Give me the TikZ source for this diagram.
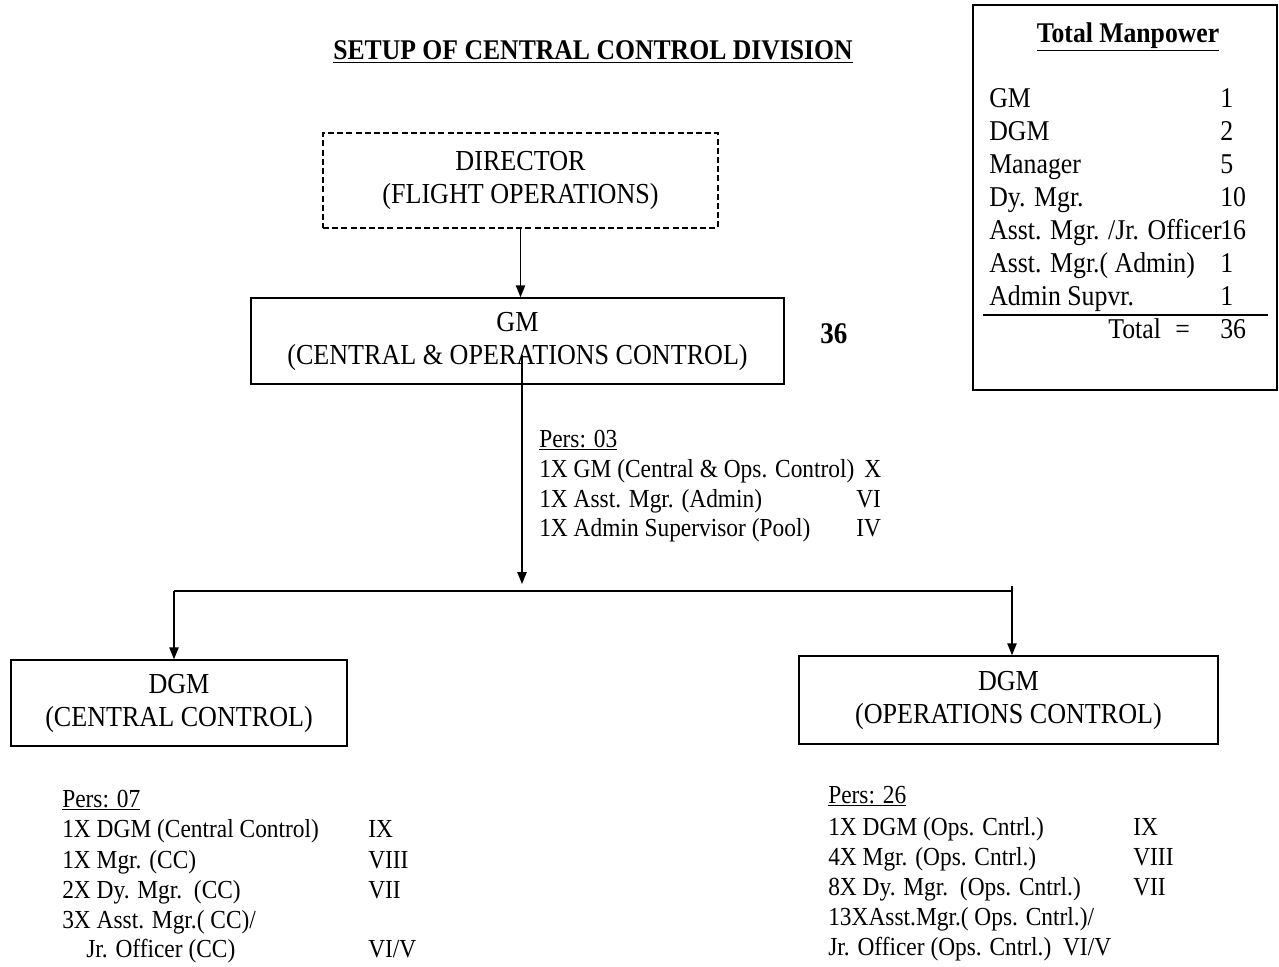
\documentclass[tikz,border=0pt]{standalone}
\usepackage{fontspec}
\setmainfont{Liberation Serif}[FakeStretch=0.9]
\usetikzlibrary{arrows.meta}
\newcommand\boxfont{\fontsize{21.75}{24.75}\selectfont}
\newcommand\persfont{\fontsize{19.5}{22.5}\selectfont}
\newcommand\tabfont{\fontsize{21.5}{24.5}\selectfont}
\newcommand\ttlfont{\fontsize{21.4}{24}\selectfont\bfseries}
\begin{document}
\begin{tikzpicture}[x=0.75pt,y=-0.75pt,
  orgbox/.style={draw,line width=1.1pt,inner sep=0pt,align=center,font=\boxfont},
  dashbox/.style={orgbox,dash pattern=on 4.5pt off 2.4pt},
  conn/.style={line width=1.1pt},
  arr/.style={conn,-{Triangle[length=9pt,width=7pt]}},
  pers/.style={anchor=base west,inner sep=0pt,font=\persfont},
  tab/.style={anchor=base west,inner sep=0pt,font=\tabfont}]
\useasboundingbox (0,0) rectangle (1279,967);

% title
\node[anchor=base,inner sep=0pt,font=\ttlfont] (title) at (593,60) {\underline{SETUP OF CENTRAL CONTROL DIVISION}};

% boxes
\node[dashbox,minimum width=296.25pt,minimum height=71.25pt] (dir) at (520.5,180.5) {DIRECTOR\\(FLIGHT OPERATIONS)};
\node[orgbox,minimum width=399.75pt,minimum height=64.5pt] (gm) at (517.5,341) {GM\\(CENTRAL \& OPERATIONS CONTROL)};
\node[orgbox,minimum width=252pt,minimum height=64.5pt] (dgml) at (179,703) {DGM\\(CENTRAL CONTROL)};
\node[orgbox,minimum width=314.25pt,minimum height=66pt] (dgmr) at (1008.5,700) {DGM\\(OPERATIONS CONTROL)};

\node[anchor=base west,inner sep=0pt,font=\fontsize{22.5}{24}\selectfont\bfseries] (n36) at (820,343) {36};

% connectors
\draw[arr] (dir.south) -- (dir.south |- gm.north);
\coordinate (gmsrc) at (522,355);
\coordinate (gmend) at (522,584);
\draw[arr] (gmsrc) -- (gmend);
\coordinate (busL) at (174,591);
\coordinate (busR) at (1012,591);
\coordinate (busRtop) at (1012,586);
\draw[conn] (busL) -- (busR);
\draw[arr] (busL) -- (busL |- dgml.north);
\draw[arr] (busRtop) -- (busRtop |- dgmr.north);

% Pers 03
\node[pers] (p03h) at (539,447) {\underline{Pers: 03}};
\node[pers] (p03a) at (539,477) {1X GM (Central \& Ops. Control)};
\node[pers] (p03ag) at (864,477) {X};
\node[pers] (p03b) at (539,507) {1X Asst. Mgr. (Admin)};
\node[pers] (p03bg) at (856,507) {VI};
\node[pers] (p03c) at (539,536) {1X Admin Supervisor (Pool)};
\node[pers] (p03cg) at (856,536) {IV};

% Pers 07
\node[pers] (p07h) at (62,807) {\underline{Pers: 07}};
\node[pers] (p07a) at (62,837) {1X DGM (Central Control)};
\node[pers] (p07ag) at (368,837) {IX};
\node[pers] (p07b) at (62,868) {1X Mgr. (CC)};
\node[pers] (p07bg) at (368,868) {VIII};
\node[pers] (p07c) at (62,898) {2X Dy. Mgr.\ \ (CC)};
\node[pers] (p07cg) at (368,898) {VII};
\node[pers] (p07d) at (62,928) {3X Asst. Mgr.( CC)/};
\node[pers] (p07e) at (86,957) {Jr. Officer (CC)};
\node[pers] (p07eg) at (368,957) {VI/V};

% Pers 26
\node[pers] (p26h) at (828,803) {\underline{Pers: 26}};
\node[pers] (p26a) at (828,835) {1X DGM (Ops. Cntrl.)};
\node[pers] (p26ag) at (1133,835) {IX};
\node[pers] (p26b) at (828,865) {4X Mgr. (Ops. Cntrl.)};
\node[pers] (p26bg) at (1133,865) {VIII};
\node[pers] (p26c) at (828,895) {8X Dy. Mgr.\ \ (Ops. Cntrl.)};
\node[pers] (p26cg) at (1133,895) {VII};
\node[pers] (p26d) at (828,925) {13XAsst.Mgr.( Ops. Cntrl.)/};
\node[pers] (p26e) at (828,955) {Jr. Officer (Ops. Cntrl.)\ \ VI/V};

% Total manpower box
\node[draw,line width=1.1pt,inner sep=0pt,minimum width=228pt,minimum height=288.75pt] (tmbox) at (1125,197.5) {};
\node[anchor=base,inner sep=0pt,font=\ttlfont] (tmtitle) at (1128,42) {\underline{Total Manpower}};
\node[tab] (r1) at (989,107) {GM};       \node[tab] (v1) at (1220,107) {1};
\node[tab] (r2) at (989,140) {DGM};      \node[tab] (v2) at (1220,140) {2};
\node[tab] (r3) at (989,173) {Manager};  \node[tab] (v3) at (1220,173) {5};
\node[tab] (r4) at (989,206) {Dy. Mgr.}; \node[tab] (v4) at (1220,206) {10};
\node[tab] (r5) at (989,239) {Asst. Mgr. /Jr. Officer}; \node[tab] (v5) at (1220,239) {16};
\node[tab] (r6) at (989,272) {Asst. Mgr.( Admin)}; \node[tab] (v6) at (1220,272) {1};
\node[tab] (r7) at (989,305) {Admin Supvr.}; \node[tab] (v7) at (1220,305) {1};
\coordinate (sumL) at (983,315);
\coordinate (sumR) at (1268,315);
\draw[conn] (sumL) -- (sumR);
\node[tab] (tl) at (1108,338) {Total};
\node[tab] (teq) at (1175,338) {=};
\node[tab] (tv) at (1220,338) {36};
\end{tikzpicture}
\end{document}
